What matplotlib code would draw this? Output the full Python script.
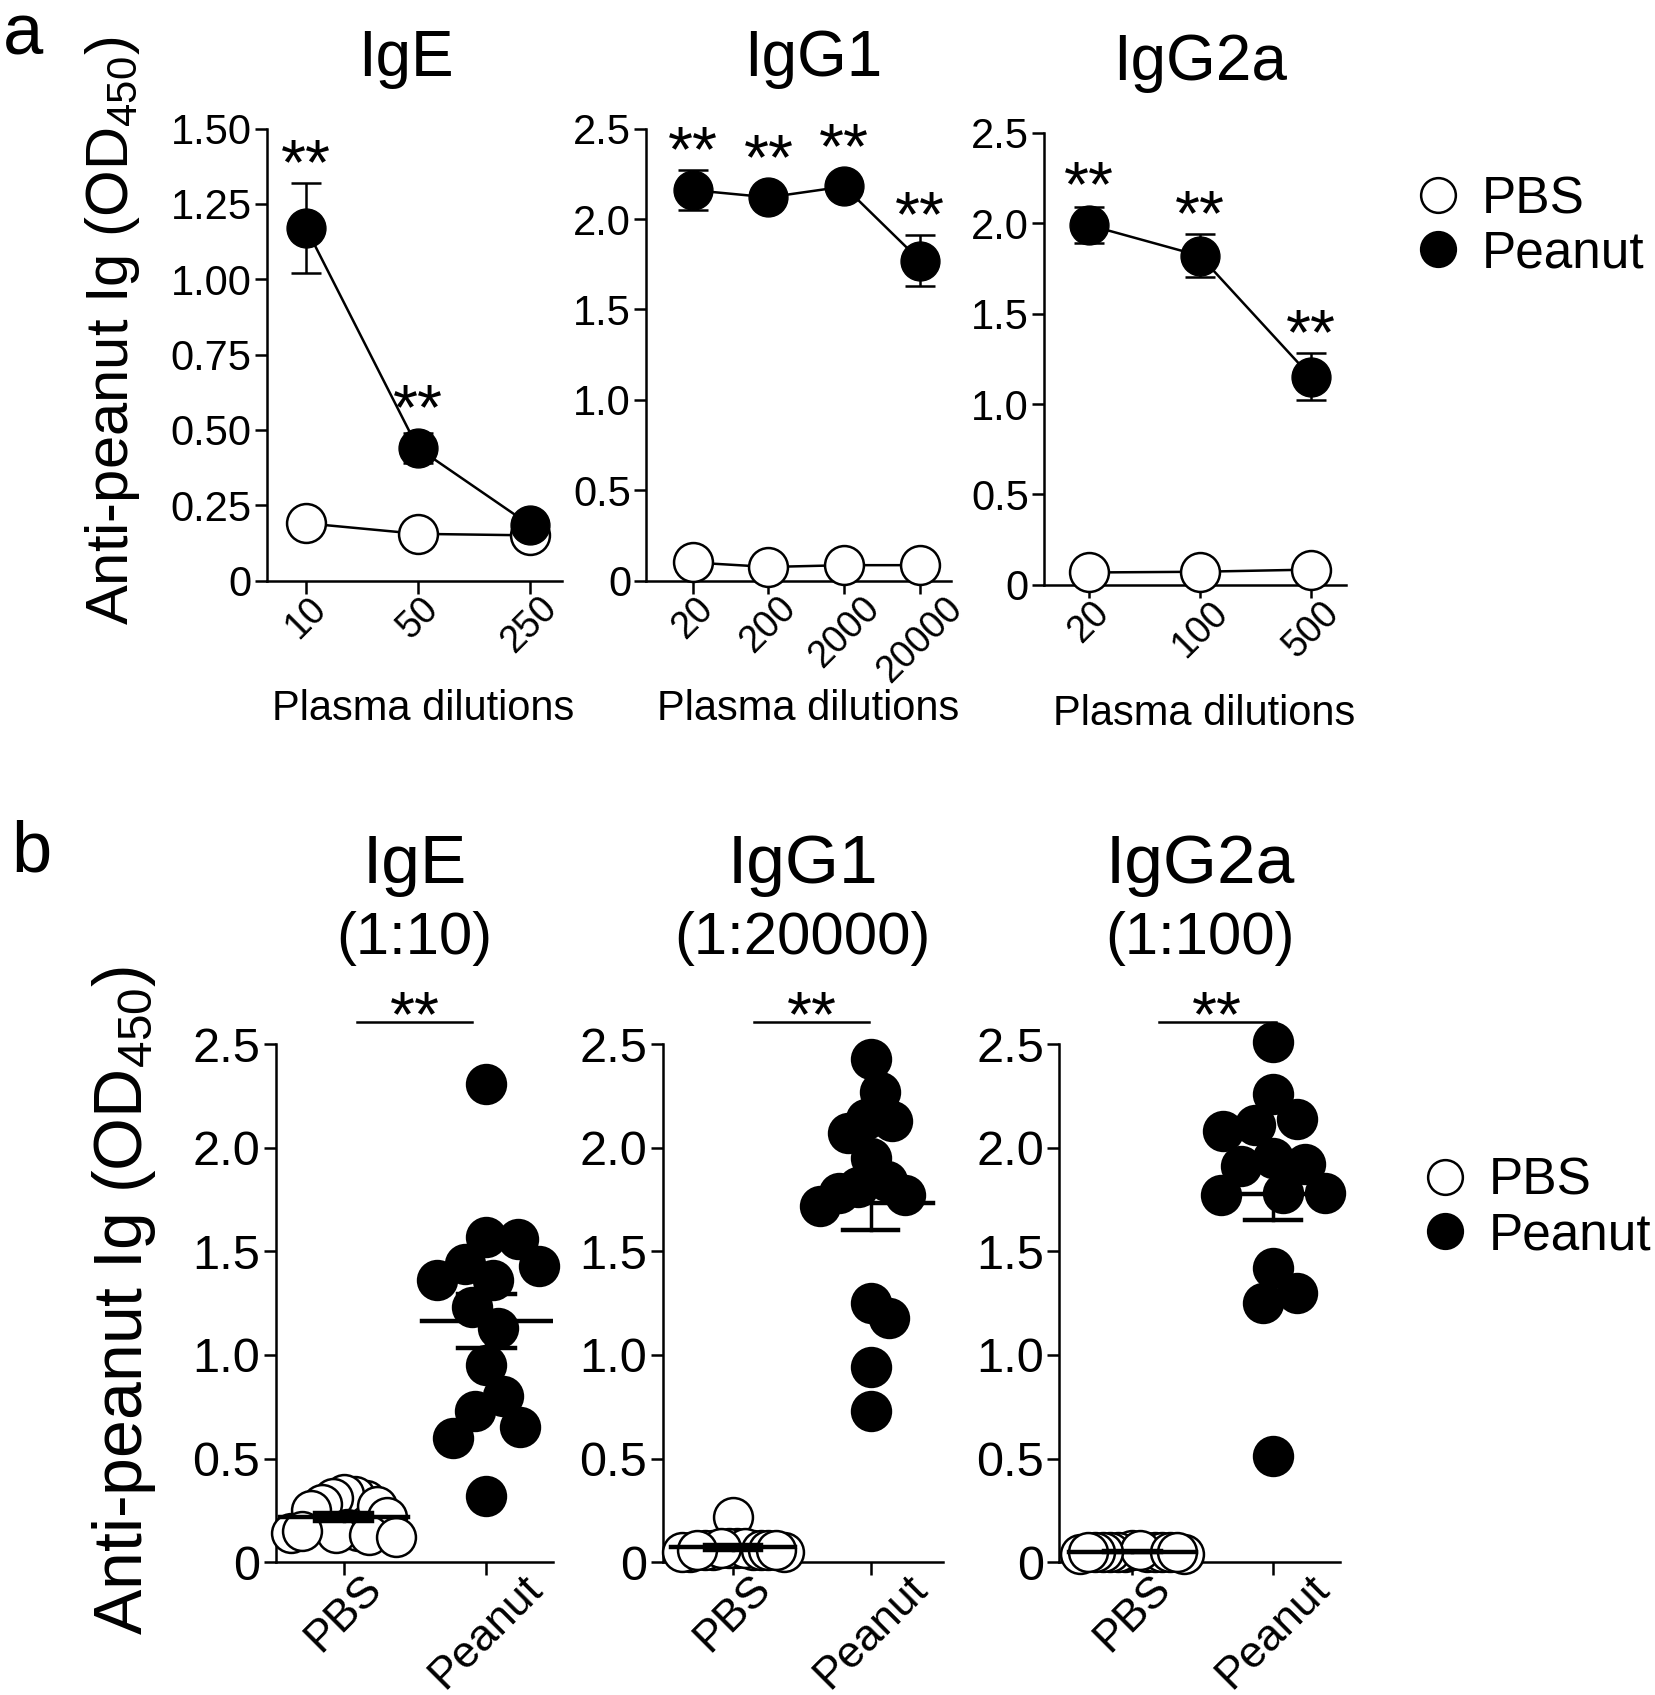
import numpy as np
import matplotlib.pyplot as plt
from matplotlib.lines import Line2D

plt.rcParams['font.family'] = ['Liberation Sans', 'DejaVu Sans']
plt.rcParams['mathtext.fontset'] = 'custom'
plt.rcParams['mathtext.rm'] = 'Liberation Sans'
plt.rcParams['mathtext.it'] = 'Liberation Sans:italic'
plt.rcParams['axes.linewidth'] = 1.8

# ---- panel a: dilution curves (mean +/- SEM) ----
ige_dil = ['10', '50', '250']
ige_pbs = [0.19, 0.155, 0.15]
ige_pnt = [1.17, 0.44, 0.185]
ige_pnt_err = [0.15, 0.05, 0.02]
ige_sig = [True, True, False]

igg1_dil = ['20', '200', '2000', '20000']
igg1_pbs = [0.10, 0.075, 0.085, 0.085]
igg1_pnt = [2.16, 2.12, 2.18, 1.77]
igg1_pnt_err = [0.11, 0.04, 0.04, 0.14]
igg1_sig = [True, True, True, True]

igg2a_dil = ['20', '100', '500']
igg2a_pbs = [0.068, 0.072, 0.084]
igg2a_pnt = [1.99, 1.82, 1.15]
igg2a_pnt_err = [0.10, 0.12, 0.13]
igg2a_sig = [True, True, True]

# ---- panel b: individual mice ----
groups = ['PBS', 'Peanut']
b_ige_pbs = [0.30, 0.32, 0.33, 0.31, 0.28, 0.27, 0.25, 0.22,
             0.16, 0.15, 0.14, 0.13, 0.14, 0.15, 0.12]
b_ige_pnt = [2.31, 1.56, 1.57, 1.44, 1.43, 1.36, 1.36, 1.23,
             1.13, 0.95, 0.80, 0.73, 0.60, 0.65, 0.32]
b_igg1_pbs = [0.22, 0.07, 0.06, 0.07, 0.05, 0.06, 0.07, 0.06,
              0.05, 0.06, 0.07, 0.06, 0.05, 0.06, 0.06]
b_igg1_pnt = [2.43, 2.27, 2.13, 2.14, 2.07, 1.95, 1.84, 1.78,
              1.77, 1.81, 1.72, 1.25, 1.18, 0.94, 0.73]
b_igg2a_pbs = [0.05, 0.05, 0.06, 0.05, 0.05, 0.04, 0.05, 0.05,
               0.06, 0.05, 0.05, 0.05, 0.04, 0.05, 0.05]
b_igg2a_pnt = [2.51, 2.26, 2.14, 2.11, 2.08, 1.95, 1.92, 1.91,
               1.78, 1.78, 1.77, 1.42, 1.30, 1.25, 0.51]

'''
keeps only left and bottom axis lines
'''


def style(ax, ysize, xsize, xpad):
    for s in ['top', 'right']:
        ax.spines[s].set_visible(False)
    ax.tick_params(direction='out', length=9, width=1.8, colors='black')
    ax.tick_params(axis='y', labelsize=ysize, pad=2)
    ax.tick_params(axis='x', labelsize=xsize, pad=xpad)


'''
beeswarm offsets so the dots do not sit on top of each other
'''


def swarm(vals, ax, diam_px, max_half):
    fig = ax.figure
    bb = ax.get_position()
    w_px = bb.width * fig.get_figwidth() * fig.dpi
    h_px = bb.height * fig.get_figheight() * fig.dpi
    x0, x1 = ax.get_xlim()
    y0, y1 = ax.get_ylim()
    sx = w_px / (x1 - x0)
    ys = np.asarray(vals) * h_px / (y1 - y0)
    xs = np.zeros(len(ys))
    placed = []
    for i in np.argsort(-ys, kind='stable'):
        cands = [0.0]
        for j in placed:
            dy = ys[i] - ys[j]
            if abs(dy) < diam_px:
                dx = np.sqrt(diam_px ** 2 - dy ** 2)
                cands += [xs[j] + dx, xs[j] - dx]
        cands.sort(key=abs)
        for c in cands:
            if all((c - xs[j]) ** 2 + (ys[i] - ys[j]) ** 2 >= diam_px ** 2 - 1e-6
                   for j in placed):
                xs[i] = c
                break
        placed.append(i)
    xs = xs / sx
    m = np.abs(xs).max()
    if m > max_half:
        xs *= max_half / m
    return xs


def star(ax, x, base, lift, fs=46):
    ax.annotate('**', xy=(x, base), xytext=(0, lift), textcoords='offset points',
                ha='center', va='bottom', fontsize=fs, annotation_clip=False)


fig = plt.figure(figsize=(16.56, 16.95), dpi=100)

# ---------------- panel a ----------------
a_pos = [[0.1612, 0.6575, 0.1782, 0.2666],
         [0.3903, 0.6575, 0.1841, 0.2666],
         [0.6305, 0.6550, 0.1821, 0.2666]]
a_xlim = [(-0.35, 2.29), (-0.61, 3.41), (-0.40, 2.31)]
a_title_x = [0.47, 0.546, 0.516]
a_data = [('IgE', ige_dil, ige_pbs, ige_pnt, ige_pnt_err, ige_sig, 1.5),
          ('IgG1', igg1_dil, igg1_pbs, igg1_pnt, igg1_pnt_err, igg1_sig, 2.5),
          ('IgG2a', igg2a_dil, igg2a_pbs, igg2a_pnt, igg2a_pnt_err, igg2a_sig, 2.5)]

for k, (name, dil, pbs, pnt, err, sig, ymax) in enumerate(a_data):
    ax = fig.add_axes(a_pos[k])
    x = np.arange(len(dil))
    ax.plot(x, pbs, '-o', color='black', mfc='white', mec='black',
            ms=28, mew=1.8, lw=1.8, clip_on=False, zorder=3)
    ax.errorbar(x, pnt, yerr=err, fmt='-o', color='black', ms=28, lw=1.8,
                elinewidth=1.8, capsize=11, capthick=1.8, clip_on=False, zorder=4)
    ax.set_xlim(a_xlim[k])
    ax.set_ylim(0, ymax)
    ax.set_xticks(x)
    ax.set_xticklabels(dil, rotation=45)
    if ymax == 1.5:
        ax.set_yticks([0, 0.25, 0.5, 0.75, 1.0, 1.25, 1.5])
        ax.set_yticklabels(['0', '0.25', '0.50', '0.75', '1.00', '1.25', '1.50'])
    else:
        ax.set_yticks([0, 0.5, 1.0, 1.5, 2.0, 2.5])
        ax.set_yticklabels(['0', '0.5', '1.0', '1.5', '2.0', '2.5'])
    style(ax, 30, 27, -2)
    r = 14 / 72 * 100 / (a_pos[k][3] * 1695) * ymax
    for xi, yi, ei, si in zip(x, pnt, err, sig):
        if si:
            star(ax, xi, yi + max(ei, r), -10)
    ax.text(a_title_x[k], 1.155, name, transform=ax.transAxes,
            ha='center', va='center', fontsize=46)
    ax.text(0.53, -0.285, 'Plasma dilutions', transform=ax.transAxes,
            ha='center', va='center', fontsize=30)

fig.text(0.068, 0.805, 'Anti-peanut Ig (OD$_{450}$)', rotation=90,
         ha='center', va='center', fontsize=43)
fig.text(0.002, 0.968, 'a', fontsize=52, ha='left', va='baseline')

# ---------------- panel b ----------------
b_pos = [[0.1664, 0.0784, 0.1678, 0.3055],
         [0.4001, 0.0784, 0.1691, 0.3055],
         [0.6397, 0.0784, 0.1697, 0.3055]]
b_xlim = [(-0.48, 1.47), (-0.51, 1.52), (-0.52, 1.48)]
b_data = [('IgE', '(1:10)', b_ige_pbs, b_ige_pnt),
          ('IgG1', '(1:20000)', b_igg1_pbs, b_igg1_pnt),
          ('IgG2a', '(1:100)', b_igg2a_pbs, b_igg2a_pnt)]
b_bar = [(0.09, 0.90), (0.15, 0.99), (0.19, 1.02)]

for k, (name, dil, pbs, pnt) in enumerate(b_data):
    ax = fig.add_axes(b_pos[k])
    ax.set_xlim(b_xlim[k])
    ax.set_ylim(0, 2.5)
    ms = 28
    diam = ms / 72 * 100
    for gi, (vals, fc) in enumerate([(pbs, 'white'), (pnt, 'black')]):
        off = swarm(vals, ax, diam * 0.95, 0.37)
        ax.plot(gi + off, vals, 'o', ms=ms, mfc=fc, mec='black', mew=1.8,
                ls='none', clip_on=False, zorder=3)
        v = np.asarray(vals)
        m = v.mean()
        s = v.std(ddof=1) / np.sqrt(len(v))
        ax.plot([gi - 0.45, gi + 0.45], [m, m], color='black', lw=3.2, zorder=5)
        ax.plot([gi, gi], [m - s, m + s], color='black', lw=2.5, zorder=5)
        for yy in (m - s, m + s):
            ax.plot([gi - 0.2, gi + 0.2], [yy, yy], color='black', lw=3.2, zorder=5)
    x0, x1 = b_bar[k]
    ax.plot([x0, x1], [2.61, 2.61], color='black', lw=1.8, clip_on=False)
    star(ax, (x0 + x1) / 2, 2.61, -20)
    ax.set_xticks([0, 1])
    ax.set_xticklabels(groups, rotation=45)
    ax.set_yticks([0, 0.5, 1.0, 1.5, 2.0, 2.5])
    ax.set_yticklabels(['0', '0.5', '1.0', '1.5', '2.0', '2.5'])
    style(ax, 35, 32, -5)
    ax.text(0.5, 1.347, name, transform=ax.transAxes, ha='center',
            va='center', fontsize=50)
    ax.text(0.5, 1.205, dil, transform=ax.transAxes, ha='center',
            va='center', fontsize=43)

fig.text(0.075, 0.233, 'Anti-peanut Ig (OD$_{450}$)', rotation=90,
         ha='center', va='center', fontsize=49)
fig.text(0.007, 0.497, 'b', fontsize=52, ha='left', va='center')

# ---------------- legends ----------------
handles = [Line2D([], [], marker='o', ls='none', ms=25, mfc='white',
                  mec='black', mew=1.8),
           Line2D([], [], marker='o', ls='none', ms=25, mfc='black',
                  mec='black', mew=1.8)]
for (lx, ly) in [(0.853, 0.8663), (0.857, 0.287)]:
    fig.legend(handles, ['PBS', 'Peanut'], loc='center left',
               bbox_to_anchor=(lx, ly), frameon=False, fontsize=37,
               handlelength=1.0, handletextpad=0.35, labelspacing=0.1,
               borderpad=0, borderaxespad=0)

fig.savefig('out.png', dpi=100)
